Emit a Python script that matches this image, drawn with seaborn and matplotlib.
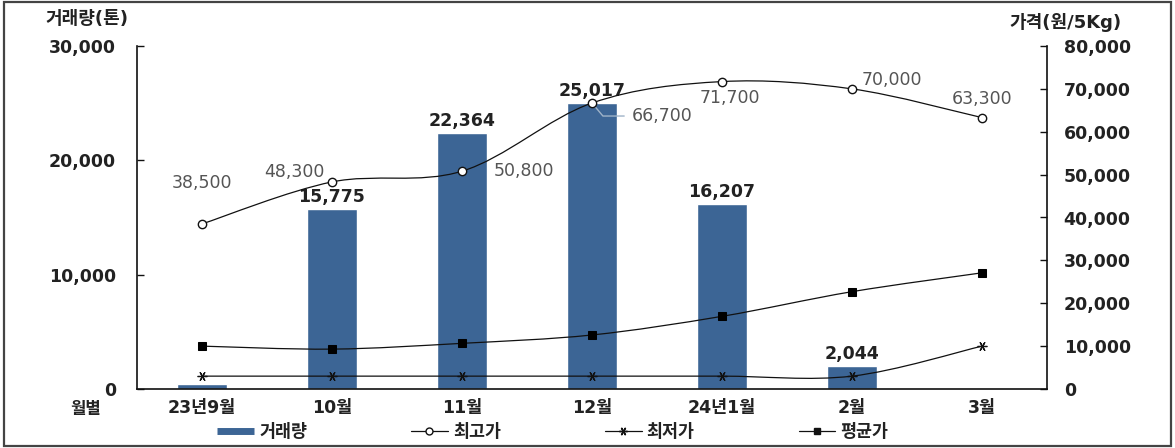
import numpy as np
import pandas as pd
import matplotlib
matplotlib.use("Agg")
import matplotlib.pyplot as plt
import seaborn as sns
from matplotlib.path import Path
from matplotlib.patches import PathPatch, Rectangle
from matplotlib.lines import Line2D
from matplotlib.ticker import FuncFormatter, FixedLocator

# ---------------- data ----------------
months = ['23년9월', '10월', '11월', '12월', '24년1월', '2월', '3월']
volume = [400, 15775, 22364, 25017, 16207, 2044, 50]           # 거래량(톤)
max_price = [38500, 48300, 50800, 66700, 71700, 70000, 63300]  # 최고가
min_price = [3000, 3000, 3000, 3000, 3000, 3000, 10000]        # 최저가
avg_price = [10000, 9300, 10650, 12600, 16950, 22700, 27100]   # 평균가
bar_labelled = [False, True, True, True, True, True, False]
left_ticks = [0, 10000, 20000, 30000]
right_ticks = [0, 10000, 20000, 30000, 40000, 50000, 60000, 70000, 80000]

sns.set_theme(style="white")
plt.rcParams['font.family'] = ['DejaVu Sans', 'Noto Sans CJK KR']
plt.rcParams['axes.unicode_minus'] = False

BAR = '#3c6595'
TXT = '#222222'
LINE = '#111111'

fig, ax = plt.subplots(figsize=(11.75, 4.48), dpi=100)
fig.subplots_adjust(left=137/1175, right=1047/1175, top=1-46/448, bottom=1-389/448)

df = pd.DataFrame({'월': months, '거래량': volume})
sns.barplot(data=df, x='월', y='거래량', color=BAR, width=0.39,
            saturation=1, ax=ax, zorder=1)
ax.set_xlim(-0.5, len(months) - 0.5)
ax.set_ylim(0, 30000)
ax.yaxis.set_major_locator(FixedLocator(left_ticks))
ax.yaxis.set_major_formatter(FuncFormatter(lambda v, p: f"{int(v):,}"))
ax.set_xlabel('')
ax.set_ylabel('')

ax2 = ax.twinx()
ax2.set_ylim(0, 80000)
ax2.yaxis.set_major_locator(FixedLocator(right_ticks))
ax2.yaxis.set_major_formatter(FuncFormatter(lambda v, p: f"{int(v):,}"))

xpos = np.arange(len(months))


def smooth_path(xs, ys):
    pts = np.column_stack([xs, ys]).astype(float)
    n = len(pts)
    verts = [pts[0]]
    codes = [Path.MOVETO]
    for i in range(n - 1):
        p0 = pts[i - 1] if i > 0 else pts[i]
        p1 = pts[i]
        p2 = pts[i + 1]
        p3 = pts[i + 2] if i + 2 < n else pts[i + 1]
        c1 = p1 + (p2 - p0) / 6.0
        c2 = p2 - (p3 - p1) / 6.0
        verts += [c1, c2, p2]
        codes += [Path.CURVE4] * 3
    return Path(verts, codes)


for ser in (max_price, min_price, avg_price):
    ax2.add_patch(PathPatch(smooth_path(xpos, ser), fill=False,
                            edgecolor=LINE, lw=0.9, zorder=3))

sns.lineplot(x=xpos, y=max_price, ax=ax2, linestyle='', marker='o',
             markersize=6, markerfacecolor='white', markeredgecolor=LINE,
             markeredgewidth=1.0, zorder=4)
sns.lineplot(x=xpos, y=min_price, ax=ax2, linestyle='', marker=(6, 2, 90),
             markersize=7, color=LINE, markeredgecolor=LINE,
             markeredgewidth=0.9, zorder=4)
sns.lineplot(x=xpos, y=avg_price, ax=ax2, linestyle='', marker='s',
             markersize=6, color='#000000', markeredgecolor='#000000',
             markerfacecolor='#000000', zorder=4)
ax2.set_xlabel('')
ax2.set_ylabel('')

# bar value labels
for i, (v, show) in enumerate(zip(volume, bar_labelled)):
    if show:
        ax.annotate(f"{v:,}", xy=(i, v), xytext=(0, 3), textcoords='offset pixels',
                    ha='center', va='bottom', fontsize=12.5, fontweight='bold',
                    color=TXT)

# max price labels (offsets in pixels)
offsets = [(0, 41), (-38, 10), (62, 0), (70, -13), (8, -16), (40, 9), (0, 19)]
for i, (v, off) in enumerate(zip(max_price, offsets)):
    if i == 3:
        ax2.annotate(f"{v:,}", xy=(i, v), xytext=off, textcoords='offset pixels',
                     ha='center', va='center', fontsize=12.5, color='#555555',
                     arrowprops=dict(arrowstyle='-', color='#9fb3c8', lw=1.0,
                                     shrinkA=3, shrinkB=3,
                                     connectionstyle='angle,angleA=0,angleB=-50,rad=0'))
    else:
        ax2.annotate(f"{v:,}", xy=(i, v), xytext=off, textcoords='offset pixels',
                     ha='center', va='center', fontsize=12.5, color='#555555')

# axes styling
for a in (ax, ax2):
    a.spines['top'].set_visible(False)
    for s in ('left', 'right', 'bottom'):
        a.spines[s].set_color(LINE)
        a.spines[s].set_linewidth(1.2)
ax.spines['right'].set_visible(False)
ax2.spines['left'].set_visible(False)
ax2.spines['bottom'].set_visible(False)

ax.tick_params(axis='y', direction='in', length=5, width=1, color=LINE,
               pad=15, labelsize=12.5, labelcolor=TXT)
ax2.tick_params(axis='y', direction='in', length=5, width=1, color=LINE,
                pad=12, labelsize=12.5, labelcolor=TXT)
for lab in ax.get_yticklabels() + ax2.get_yticklabels():
    lab.set_fontweight('bold')

ax.tick_params(axis='x', which='major', length=0, pad=7, labelsize=12.5,
               labelcolor=TXT)
for lab in ax.get_xticklabels():
    lab.set_fontweight('bold')
ax.xaxis.set_minor_locator(FixedLocator(np.arange(0.5, len(months) - 1, 1.0)))
ax.tick_params(axis='x', which='minor', direction='in', length=4, width=1,
               color='#555555')

# axis titles
fig.text(87/1175, 1-19/448, '거래량(톤)', ha='center', va='center',
         fontsize=13, fontweight='bold', color=TXT)
fig.text(1066/1175, 1-22/448, '가격(원/5Kg)', ha='center', va='center',
         fontsize=13, fontweight='bold', color=TXT)
fig.text(86/1175, 1-409/448, '월별', ha='center', va='center',
         fontsize=12, fontweight='bold', color=TXT)

# legend
handles = [
    Line2D([], [], color=BAR, lw=5, solid_capstyle='butt'),
    Line2D([], [], color=LINE, lw=0.9, marker='o', markersize=5,
           markerfacecolor='white', markeredgecolor=LINE),
    Line2D([], [], color=LINE, lw=0.9, marker=(6, 2, 90), markersize=6),
    Line2D([], [], color=LINE, lw=0.9, marker='s', markersize=5),
]
labels = ['거래량', '최고가', '최저가', '평균가']
leg = fig.legend(handles, labels, loc='center', ncol=4,
                 bbox_to_anchor=(553/1175, 1-432/448), frameon=False,
                 handlelength=2.1, handletextpad=0.3, columnspacing=6.0,
                 prop={'weight': 'bold', 'size': 12.5})
for t in leg.get_texts():
    t.set_color(TXT)

# outer frame
fig.patches.append(Rectangle((0.003, 0.005), 0.994, 0.99, transform=fig.transFigure,
                             fill=False, edgecolor='#444444', lw=1.6))

fig.savefig('out.png', dpi=100)
